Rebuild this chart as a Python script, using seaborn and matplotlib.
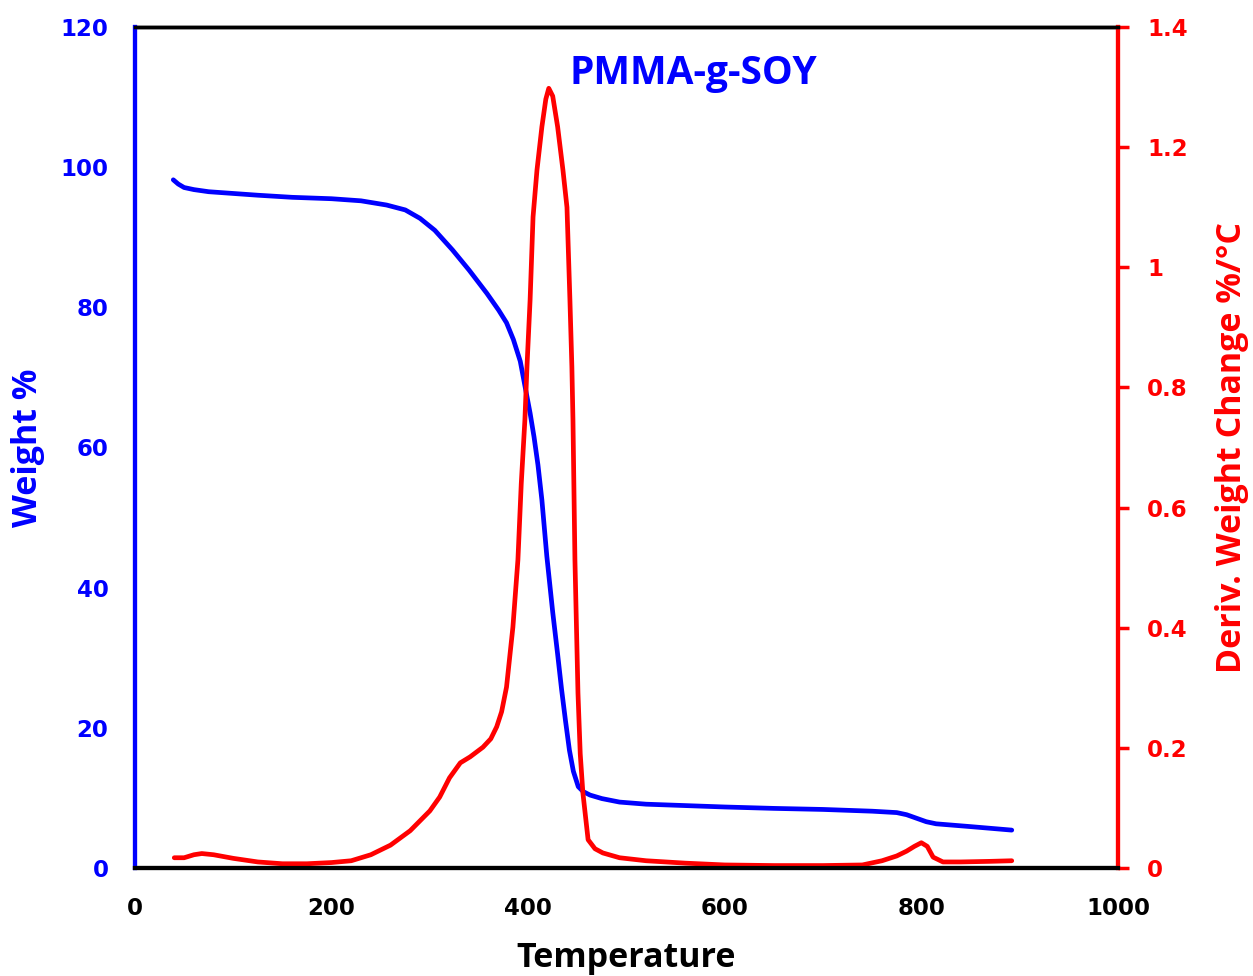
"""
TGA / DTG curve for PMMA-g-SOY, redrawn with seaborn.
"""
import pandas as pd
import matplotlib
matplotlib.use("Agg")
import matplotlib.pyplot as plt
import seaborn as sns

# ==========================================
# DATA
# ==========================================
tga_temp = [39, 44, 50, 60, 75, 95, 125, 160, 200, 230, 256, 275, 290, 305,
            323, 340, 358, 370, 378, 385, 392, 397, 402, 406, 410, 414, 419,
            425, 430, 434, 438, 442, 446, 451, 456, 463, 475, 493, 520, 560,
            600, 650, 700, 750, 775, 785, 795, 805, 815, 850, 892]
tga_weight = [98.2, 97.6, 97.1, 96.8, 96.5, 96.3, 96.0, 95.7, 95.5, 95.2, 94.6,
              93.9, 92.7, 91.0, 88.2, 85.3, 82.0, 79.6, 77.8, 75.4, 72.3, 68.6,
              64.9, 61.5, 57.5, 52.5, 44.5, 36.5, 30.5, 25.5, 21.0, 16.8, 13.8,
              11.6, 10.9, 10.4, 9.9, 9.4, 9.1, 8.9, 8.7, 8.5, 8.35, 8.1, 7.9,
              7.6, 7.1, 6.6, 6.3, 5.9, 5.4]

dtg_temp = [40, 50, 60, 68, 80, 100, 125, 150, 175, 200, 220, 240, 260, 280,
            300, 310, 320, 331, 341, 354, 362, 368, 373, 378, 384.5, 389.6, 393,
            396.7, 398.8, 402, 405, 409, 414, 418, 421, 425, 430, 435.4, 439.5,
            442.5, 444.5, 445.6, 447.6, 450.7, 453, 455.7, 461, 468, 476, 493,
            520, 560, 600, 650, 700, 740, 760, 775, 785, 793, 800, 806, 812,
            822, 840, 870, 892]
dtg_deriv = [0.017, 0.017, 0.022, 0.024, 0.022, 0.016, 0.010, 0.007, 0.007,
             0.009, 0.012, 0.022, 0.038, 0.062, 0.095, 0.118, 0.150, 0.175,
             0.185, 0.201, 0.215, 0.235, 0.260, 0.301, 0.401, 0.513, 0.640,
             0.746, 0.834, 0.946, 1.084, 1.162, 1.234, 1.280, 1.298, 1.285,
             1.234, 1.162, 1.100, 0.946, 0.834, 0.746, 0.513, 0.291, 0.190,
             0.125, 0.047, 0.032, 0.025, 0.017, 0.012, 0.008, 0.005, 0.004,
             0.004, 0.005, 0.012, 0.020, 0.028, 0.036, 0.042, 0.036, 0.018,
             0.010, 0.010, 0.011, 0.012]

x_ticks = [0, 200, 400, 600, 800, 1000]
left_ticks = [0, 20, 40, 60, 80, 100, 120]
right_ticks = [0, 0.2, 0.4, 0.6, 0.8, 1.0, 1.2, 1.4]
right_labels = ["0", "0.2", "0.4", "0.6", "0.8", "1", "1.2", "1.4"]

BLUE = "#0000FF"
RED = "#FF0000"

df_tga = pd.DataFrame({"Temperature": tga_temp, "Weight": tga_weight})
df_dtg = pd.DataFrame({"Temperature": dtg_temp, "Deriv": dtg_deriv})

sns.set_theme(style="white")
plt.rcParams["font.family"] = ["DejaVu Sans"]
LABEL_FONT = ["Open Sans", "DejaVu Sans"]

fig = plt.figure(figsize=(12.53, 9.76), dpi=100)
ax = fig.add_axes([0.1077, 0.1107, 0.7845, 0.8616])
ax2 = ax.twinx()

sns.lineplot(data=df_tga, x="Temperature", y="Weight", ax=ax, color=BLUE,
             linewidth=3.4, sort=False)
sns.lineplot(data=df_dtg, x="Temperature", y="Deriv", ax=ax2, color=RED,
             linewidth=3.4, sort=False)
for line in ax.get_lines() + ax2.get_lines():
    line.set_solid_joinstyle("round")
    line.set_solid_capstyle("round")

ax.set_xlim(0, 1000)
ax.set_ylim(0, 120)
ax2.set_ylim(0, 1.4)

ax.set_xticks(x_ticks)
ax.set_xticklabels([str(t) for t in x_ticks])
ax.set_yticks(left_ticks)
ax.set_yticklabels([str(t) for t in left_ticks])
ax2.set_yticks(right_ticks)
ax2.set_yticklabels(right_labels)

ax.tick_params(axis="x", length=0, pad=21, labelsize=16.5, colors="black")
ax.tick_params(axis="y", length=0, pad=19, labelsize=16.5, colors=BLUE)
ax2.tick_params(axis="y", length=8, width=2.5, direction="out", pad=13,
                labelsize=16.5, colors=RED)
for lab in ax.get_xticklabels() + ax.get_yticklabels() + ax2.get_yticklabels():
    lab.set_fontweight("bold")

for a in (ax, ax2):
    a.spines["top"].set_color("black")
    a.spines["top"].set_linewidth(2.5)
    a.spines["bottom"].set_color("black")
    a.spines["bottom"].set_linewidth(3.0)
    a.spines["left"].set_color(BLUE)
    a.spines["left"].set_linewidth(3.0)
    a.spines["right"].set_color(RED)
    a.spines["right"].set_linewidth(3.0)

ax.set_xlabel("Temperature", fontsize=24.5, fontweight="bold", color="black",
              family=LABEL_FONT, labelpad=15)
ax.set_ylabel("Weight %", fontsize=24.5, fontweight="bold", color=BLUE,
              family=LABEL_FONT, labelpad=11)
ax2.set_ylabel("Deriv. Weight Change %/°C", fontsize=24.5, fontweight="bold",
               color=RED, family=LABEL_FONT, labelpad=20)

ax.text(0.568, 0.968, "PMMA-g-SOY", transform=ax.transAxes, ha="center",
        va="top", fontsize=28, fontweight="bold", color=BLUE, family=LABEL_FONT)

fig.savefig("out.png", dpi=100)
